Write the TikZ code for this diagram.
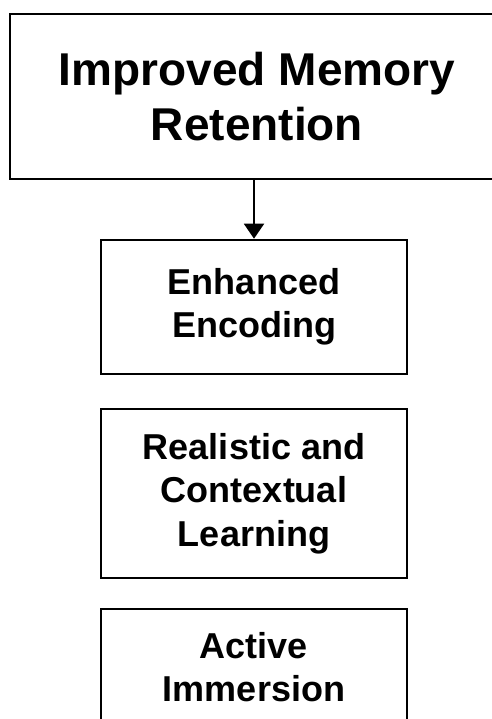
\documentclass[tikz,border=0pt]{standalone}
\usepackage{fontspec}
\setmainfont{Liberation Sans}
\usetikzlibrary{arrows.meta}
\begin{document}
\begin{tikzpicture}[x=1pt,y=1pt,
  box/.style={draw=black, line width=2.6pt, fill=white, align=center, inner sep=0pt},
  bigtext/.style={font=\bfseries\fontsize{46}{55}\selectfont},
  smalltext/.style={font=\bfseries\fontsize{36}{43.5}\selectfont},
  conn/.style={line width=2pt, -{Triangle[width=20pt,length=15pt]}}]
\useasboundingbox[fill=white] (0,0) rectangle (491,-719);
\node[box, bigtext, minimum width=494pt, minimum height=165pt] (top) at (257,-96.5) {Improved Memory\\Retention};
\node[box, smalltext, minimum width=306pt, minimum height=134pt] (enc) at (254,-307) {Enhanced\\Encoding};
\node[box, smalltext, minimum width=306pt, minimum height=169pt] (real) at (254,-493.5) {Realistic and\\Contextual\\Learning};
\node[box, smalltext, minimum width=306pt, minimum height=116pt] (act) at (254,-667) {Active\\Immersion};
\draw[conn] (top.south -| enc.north) -- (enc.north);
\end{tikzpicture}
\end{document}
